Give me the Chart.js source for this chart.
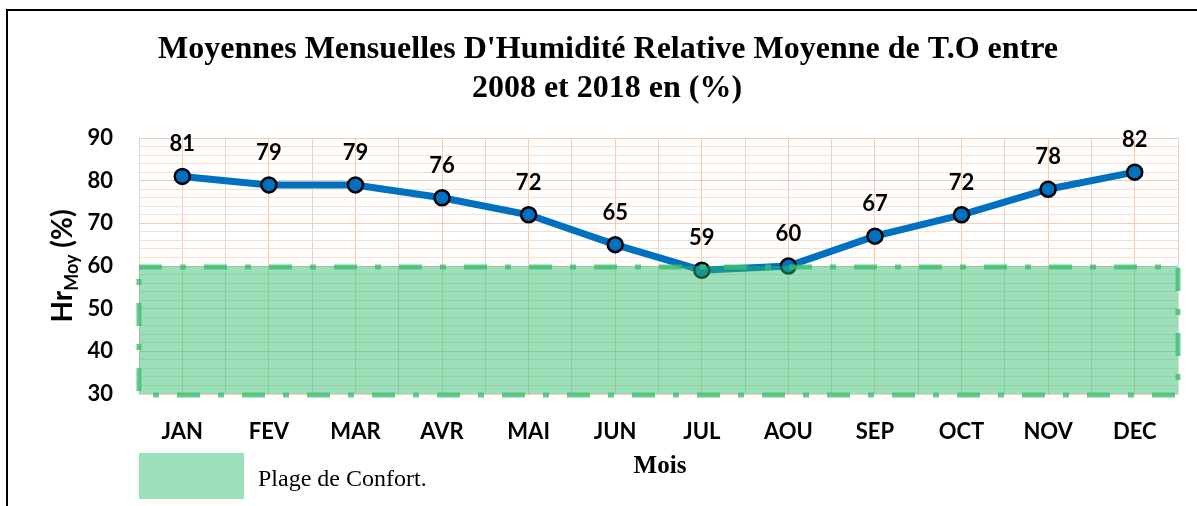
<!DOCTYPE html>
<html>
<head>
<meta charset="utf-8">
<script src="https://cdn.jsdelivr.net/npm/chart.js@4.4.1/dist/chart.umd.min.js"></script>
<style>
  html, body { margin: 0; padding: 0; background: #fff; }
  #wrap { width: 1197px; height: 506px; }
</style>
</head>
<body>
<div id="wrap"><canvas id="hrChart"></canvas></div>
<script>
// Mois et humidité relative moyenne (%)
const months = ['JAN', 'FEV', 'MAR', 'AVR', 'MAI', 'JUN', 'JUL', 'AOU', 'SEP', 'OCT', 'NOV', 'DEC'];
const hrMoy = [81, 79, 79, 76, 72, 65, 59, 60, 67, 72, 78, 82];
const yTickLabels = [30, 40, 50, 60, 70, 80, 90];
// Plage de confort (bornes en %)
const comfortRange = [30, 60];

const titleLines = ["Moyennes Mensuelles D'Humidité Relative Moyenne de T.O entre", '2008 et 2018 en (%)'];

const sans = 'Lato, "Open Sans", sans-serif';
const serif = '"Liberation Serif", "DejaVu Serif", serif';

// box + labels drawn over the line, like the original
const overlayPlugin = {
    id: 'overlay',
    afterDatasetsDraw(chart) {
        const ctx = chart.ctx;
        const y = chart.scales.y;
        const area = chart.chartArea;
        const top = y.getPixelForValue(comfortRange[1]);
        const bottom = y.getPixelForValue(comfortRange[0]);
        ctx.save();
        ctx.fillStyle = 'rgba(46, 190, 110, 0.48)';
        ctx.fillRect(area.left, top, area.right - area.left, bottom - top);
        ctx.strokeStyle = 'rgba(60, 190, 110, 0.8)';
        ctx.lineWidth = 5;
        ctx.setLineDash([23, 18, 6, 18]);
        ctx.strokeRect(area.left, top + 1, area.right - area.left, bottom - top);
        ctx.restore();

        // valeurs au-dessus des points
        const meta = chart.getDatasetMeta(0);
        ctx.save();
        ctx.font = 'bold 22px ' + sans;
        ctx.fillStyle = '#000';
        ctx.textAlign = 'center';
        ctx.textBaseline = 'middle';
        meta.data.forEach((pt, i) => {
            ctx.fillText(String(hrMoy[i]), pt.x, pt.y - 32);
        });
        ctx.restore();
    },
    afterDraw(chart) {
        const ctx = chart.ctx;
        ctx.save();
        // cadre
        ctx.strokeStyle = '#000';
        ctx.lineWidth = 2;
        ctx.strokeRect(7, 10, 1400, 700);

        // titre
        ctx.fillStyle = '#000';
        ctx.textAlign = 'center';
        ctx.textBaseline = 'middle';
        ctx.font = 'bold 32px ' + serif;
        ctx.fillText(titleLines[0], 608, 50);
        ctx.fillText(titleLines[1], 607, 89);

        // titre axe x
        ctx.font = 'bold 25px ' + serif;
        ctx.fillText('Mois', 660, 467);

        // légende
        ctx.fillStyle = 'rgb(155, 224, 186)';
        ctx.fillRect(139, 453, 105, 46);
        ctx.fillStyle = '#000';
        ctx.textAlign = 'left';
        ctx.font = '24px ' + serif;
        ctx.fillText('Plage de Confort.', 258, 480);

        // titre axe y : Hr(Moy) (%)
        ctx.translate(72, 266);
        ctx.rotate(-Math.PI / 2);
        ctx.textBaseline = 'alphabetic';
        const big = 'bold 28px ' + sans, small = 'bold 18px ' + sans;
        ctx.font = big;
        const w1 = ctx.measureText('Hr').width;
        const w3 = ctx.measureText(' (%)').width;
        ctx.font = small;
        const w2 = ctx.measureText('Moy').width;
        let x0 = -(w1 + w2 + w3) / 2;
        ctx.font = big;
        ctx.fillText('Hr', x0, 0);
        ctx.font = small;
        ctx.fillText('Moy', x0 + w1, 6);
        ctx.font = big;
        ctx.fillText(' (%)', x0 + w1 + w2, 0);
        ctx.restore();
    }
};

const ctx = document.getElementById('hrChart').getContext('2d');
const hrChart = new Chart(ctx, {
    type: 'line',
    data: {
        labels: months,
        datasets: [{
            label: 'Hr Moy',
            data: hrMoy,
            borderColor: '#0070C0',
            backgroundColor: '#0070C0',
            borderWidth: 7,
            pointRadius: 7.5,
            pointHoverRadius: 7.5,
            pointBorderWidth: 2.5,
            pointBorderColor: '#000',
            pointBackgroundColor: '#0070C0',
            tension: 0,
            fill: false
        }]
    },
    options: {
        responsive: true,
        maintainAspectRatio: false,
        animation: false,
        layout: { padding: { top: 138, right: 19, left: 0, bottom: 0 } },
        plugins: {
            legend: { display: false },
            tooltip: { enabled: false }
        },
        scales: {
            x: {
                offset: true,
                grid: { offset: false, color: 'rgb(248, 203, 173)', drawTicks: false },
                border: { display: false },
                ticks: {
                    color: '#000',
                    font: { family: sans, size: 22, weight: 'bold' },
                    padding: 25
                },
                afterFit: s => { s.height = 112; }
            },
            x2: {
                type: 'category',
                labels: months,
                position: 'top',
                offset: true,
                grid: { offset: true, color: 'rgb(217, 217, 217)', drawTicks: false },
                border: { display: false },
                ticks: { display: false },
                afterFit: s => { s.height = 0; }
            },
            y: {
                min: 30,
                max: 90,
                grid: {
                    drawTicks: false,
                    color: c => (c.tick && yTickLabels.includes(c.tick.value)) ? 'rgb(248, 203, 173)' : 'rgb(251, 222, 200)'
                },
                border: { display: false },
                ticks: {
                    stepSize: 2,
                    autoSkip: false,
                    padding: 26,
                    color: '#000',
                    font: { family: sans, size: 22, weight: 'bold' },
                    callback: v => yTickLabels.includes(v) ? v : ''
                },
                afterFit: s => { s.width = 139; }
            }
        }
    },
    plugins: [overlayPlugin]
});
</script>
</body>
</html>
